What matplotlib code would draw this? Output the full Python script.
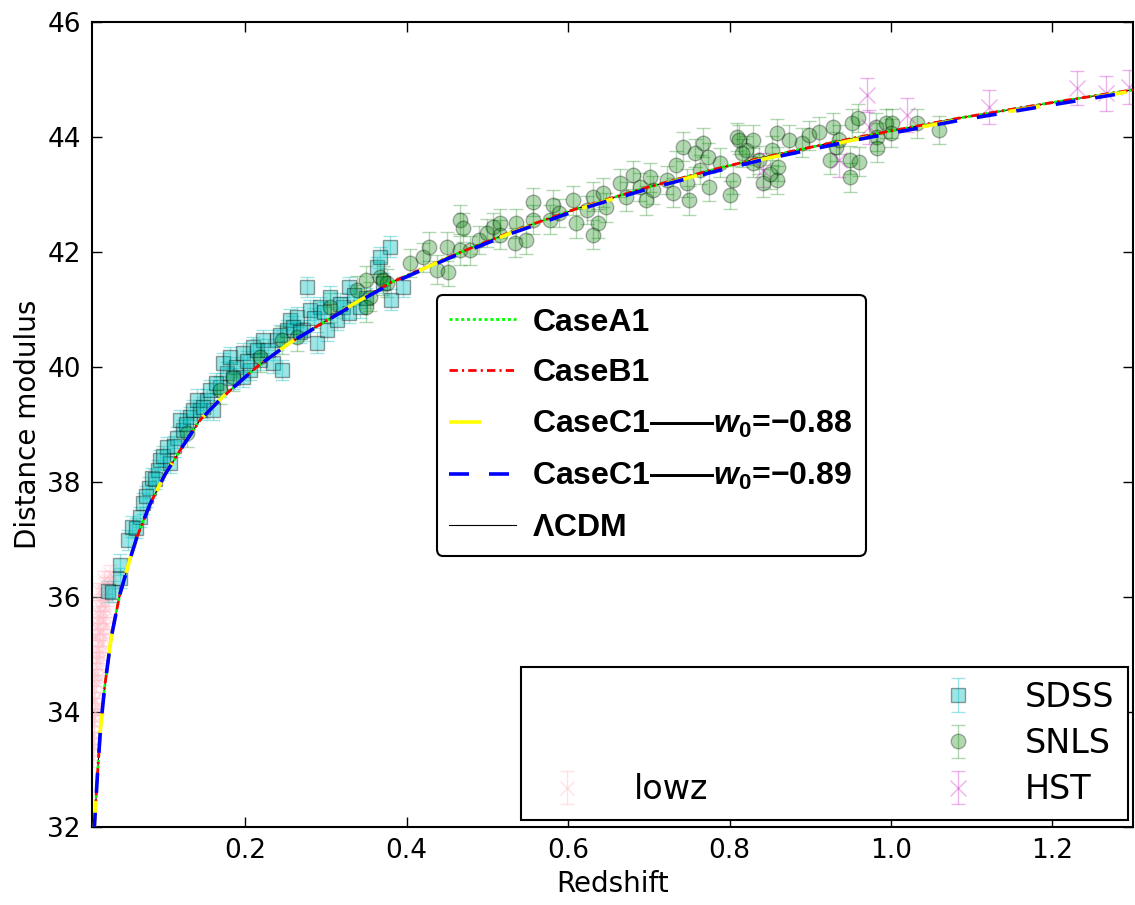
import matplotlib
matplotlib.use("Agg")
import matplotlib.pyplot as plt
from matplotlib.lines import Line2D

# model curves
z_model = [0.0125, 0.0165, 0.0206, 0.0256, 0.0338, 0.0442, 0.0566, 0.0656, 0.0820,
           0.1000, 0.1190, 0.1440, 0.1720, 0.2140, 0.2550, 0.2960, 0.3380, 0.3790,
           0.4500, 0.5310, 0.6140, 0.6970, 0.7790, 0.8370, 0.9000, 0.9610, 1.0850,
           1.2090, 1.3000]
mu_lcdm = [31.90, 32.87, 33.74, 34.43, 35.30, 36.03, 36.64, 37.04, 37.62,
           38.12, 38.55, 39.08, 39.48, 40.00, 40.42, 40.77, 41.13, 41.46,
           41.90, 42.36, 42.77, 43.12, 43.43, 43.63, 43.82, 44.00, 44.33,
           44.62, 44.82]
mu_a1 = [31.90, 32.87, 33.74, 34.43, 35.30, 36.03, 36.64, 37.04, 37.62,
         38.12, 38.55, 39.08, 39.48, 40.00, 40.42, 40.77, 41.13, 41.46,
         41.90, 42.36, 42.77, 43.12, 43.43, 43.63, 43.82, 44.00, 44.33,
         44.62, 44.82]
mu_b1 = [31.90, 32.87, 33.74, 34.43, 35.30, 36.03, 36.64, 37.04, 37.62,
         38.12, 38.55, 39.08, 39.48, 40.00, 40.42, 40.77, 41.13, 41.46,
         41.90, 42.36, 42.77, 43.12, 43.43, 43.63, 43.82, 44.00, 44.33,
         44.62, 44.82]
mu_c088 = [31.90, 32.87, 33.74, 34.43, 35.30, 36.03, 36.64, 37.04, 37.62,
           38.12, 38.55, 39.08, 39.48, 40.00, 40.42, 40.77, 41.13, 41.45,
           41.89, 42.34, 42.75, 43.10, 43.40, 43.60, 43.79, 43.97, 44.30,
           44.59, 44.80]
mu_c089 = [31.90, 32.87, 33.74, 34.43, 35.30, 36.03, 36.64, 37.04, 37.62,
           38.12, 38.55, 39.08, 39.48, 40.00, 40.42, 40.76, 41.12, 41.44,
           41.88, 42.33, 42.74, 43.09, 43.39, 43.59, 43.78, 43.96, 44.29,
           44.58, 44.79]

# supernova samples
z_lowz = [0.011, 0.012, 0.013, 0.013, 0.014, 0.014, 0.015, 0.015, 0.016, 0.016,
          0.017, 0.017, 0.018, 0.018, 0.019, 0.020, 0.021, 0.022, 0.023, 0.024,
          0.025, 0.026, 0.028, 0.030, 0.032, 0.013, 0.016, 0.019, 0.022, 0.027,
          0.011, 0.012, 0.012, 0.014, 0.015, 0.017, 0.018, 0.020, 0.021, 0.023,
          0.024, 0.026, 0.029, 0.031, 0.034, 0.012, 0.014, 0.016, 0.019, 0.025]
mu_lowz = [33.2, 33.6, 33.9, 34.4, 34.2, 34.7, 34.5, 35.0, 34.8, 35.3,
           35.1, 35.5, 35.2, 35.7, 35.4, 35.8, 35.6, 36.0, 35.7, 36.1,
           35.9, 36.2, 36.0, 36.3, 36.4, 33.4, 34.1, 34.9, 35.2, 35.5,
           33.5, 33.8, 34.2, 34.0, 34.9, 34.6, 35.0, 35.4, 35.9, 35.3,
           35.6, 35.8, 36.1, 36.2, 36.3, 34.6, 35.3, 35.6, 36.1, 36.3]

z_sdss = [0.030, 0.035, 0.045, 0.045, 0.055, 0.059, 0.069, 0.073, 0.080, 0.084,
          0.092, 0.094, 0.107, 0.103, 0.115, 0.123, 0.119, 0.131, 0.135, 0.144,
          0.140, 0.152, 0.160, 0.156, 0.168, 0.177, 0.172, 0.181, 0.189, 0.197,
          0.206, 0.197, 0.209, 0.218, 0.222, 0.234, 0.239, 0.246, 0.251, 0.255,
          0.264, 0.271, 0.276, 0.280, 0.289, 0.292, 0.301, 0.305, 0.313, 0.321,
          0.329, 0.329, 0.342, 0.363, 0.370, 0.379, 0.381, 0.395, 0.367,
          0.064, 0.077, 0.088, 0.098, 0.111, 0.127, 0.148, 0.164, 0.185, 0.202,
          0.214, 0.228, 0.243, 0.259, 0.268, 0.285, 0.297, 0.317, 0.335, 0.350]
mu_sdss = [36.10, 36.09, 36.33, 36.56, 36.99, 37.22, 37.39, 37.63, 37.90, 38.07,
           38.21, 38.38, 38.33, 38.61, 38.77, 38.90, 39.08, 39.13, 39.25, 39.25,
           39.43, 39.43, 39.25, 39.60, 39.65, 39.90, 40.07, 40.17, 40.00, 39.83,
           39.95, 40.24, 40.35, 40.12, 40.47, 40.07, 40.47, 39.95, 40.64, 40.82,
           40.87, 40.64, 41.39, 40.99, 40.42, 41.04, 40.64, 41.22, 40.82, 41.04,
           41.39, 40.94, 41.04, 41.74, 41.46, 42.09, 41.17, 41.39, 41.91,
           37.20, 37.75, 38.05, 38.45, 38.62, 39.00, 39.30, 39.72, 39.80, 40.10,
           40.30, 40.30, 40.55, 40.70, 40.60, 40.85, 40.95, 41.10, 41.25, 41.20]

z_snls = [0.128, 0.168, 0.185, 0.218, 0.246, 0.264, 0.305, 0.338, 0.350, 0.354,
          0.350, 0.367, 0.375, 0.370, 0.404, 0.420, 0.428, 0.437, 0.451, 0.450,
          0.466, 0.470, 0.466, 0.478, 0.490, 0.499, 0.507, 0.515, 0.515, 0.536,
          0.534, 0.548, 0.556, 0.556, 0.577, 0.581, 0.589, 0.606, 0.610, 0.623,
          0.631, 0.637, 0.631, 0.643, 0.647, 0.664, 0.672, 0.680, 0.689, 0.697,
          0.701, 0.705, 0.722, 0.730, 0.734, 0.742, 0.747, 0.750, 0.757, 0.763,
          0.767, 0.773, 0.775, 0.788, 0.800, 0.804, 0.809, 0.821, 0.829, 0.829,
          0.812, 0.816, 0.837, 0.841, 0.853, 0.859, 0.859, 0.874, 0.890, 0.899,
          0.911, 0.924, 0.928, 0.932, 0.936, 0.949, 0.949, 0.952, 0.959, 0.961,
          0.982, 0.983, 0.983, 0.994, 1.002, 1.000, 1.032, 1.060, 0.850, 0.860]
mu_snls = [38.85, 39.60, 39.83, 40.17, 40.47, 40.52, 41.04, 41.34, 41.51, 41.22,
           41.04, 41.57, 41.46, 41.51, 41.81, 41.91, 42.09, 41.69, 41.65, 42.09,
           42.56, 42.42, 42.03, 42.03, 42.21, 42.33, 42.43, 42.50, 42.30, 42.50,
           42.16, 42.21, 42.87, 42.56, 42.56, 42.82, 42.68, 42.90, 42.50, 42.73,
           42.96, 42.50, 42.30, 43.03, 42.78, 43.20, 42.96, 43.34, 43.13, 42.90,
           43.30, 43.08, 43.25, 43.03, 43.51, 43.83, 43.20, 42.90, 43.72, 43.43,
           43.90, 43.65, 43.13, 43.55, 42.99, 43.25, 44.00, 43.77, 43.95, 43.55,
           43.95, 43.72, 43.60, 43.20, 43.77, 44.07, 43.25, 43.95, 43.90, 44.03,
           44.09, 43.60, 44.17, 43.83, 43.95, 43.60, 43.30, 44.24, 44.33, 43.57,
           44.17, 44.00, 43.81, 44.24, 44.24, 44.07, 44.24, 44.12, 43.35, 43.48]

z_hst = [0.841, 0.936, 0.971, 0.973, 1.020, 1.122, 1.231, 1.267, 1.295]
mu_hst = [43.43, 43.60, 44.73, 44.17, 44.38, 44.52, 44.85, 44.76, 44.87]

err_lowz = 0.15
err_sdss = 0.18
err_snls = 0.25
err_hst = 0.30

plt.rcParams["lines.scale_dashes"] = False
plt.rcParams["mathtext.fontset"] = "custom"
plt.rcParams["mathtext.it"] = "Liberation Sans:italic:bold"
plt.rcParams["mathtext.rm"] = "Liberation Sans:bold"
plt.rcParams["mathtext.bf"] = "Liberation Sans:bold"

fig, ax = plt.subplots(figsize=(11.35, 9.05), dpi=100)
fig.subplots_adjust(left=0.0811, right=0.9982, bottom=0.0862, top=0.9757)

h_lowz = ax.errorbar(z_lowz, mu_lowz, yerr=err_lowz, fmt="x", color="pink",
                     ms=10, mew=1, alpha=0.45, capsize=5, elinewidth=1, label="lowz")
h_sdss = ax.errorbar(z_sdss, mu_sdss, yerr=err_sdss, fmt="s", color="c", mec="k",
                     ms=10, alpha=0.38, capsize=5, elinewidth=1, label="SDSS")
h_snls = ax.errorbar(z_snls, mu_snls, yerr=err_snls, fmt="o", color="g", mec="k",
                     ms=10.5, alpha=0.3, capsize=5, elinewidth=1, label="SNLS")
h_hst = ax.errorbar(z_hst, mu_hst, yerr=err_hst, fmt="x", color="m",
                    ms=12, mew=1, alpha=0.3, capsize=5, elinewidth=1, label="HST")

l_lcdm, = ax.plot(z_model, mu_lcdm, color="k", lw=0.8, zorder=3, label=r"$\Lambda$CDM")
l_a1, = ax.plot(z_model, mu_a1, color="lime", lw=2, dashes=(2.2, 2.0), zorder=4,
                label="CaseA1")
l_b1, = ax.plot(z_model, mu_b1, color="red", lw=2, dashes=(6, 3, 1.5, 3), zorder=5,
                label="CaseB1")
l_c088, = ax.plot(z_model, mu_c088, color="yellow", lw=2.6, dashes=(23, 40), zorder=6,
                  label="CaseC1\u2014\u2014$w_0$=\u22120.88")
l_c089, = ax.plot(z_model, mu_c089, color="blue", lw=2.6, dashes=(14.4, 14.4), zorder=7,
                  label="CaseC1\u2014\u2014$w_0$=\u22120.89")

ax.set_xlim(0.01, 1.3)
ax.set_ylim(32, 46)
ax.set_xticks([0.2, 0.4, 0.6, 0.8, 1.0, 1.2])
ax.set_yticks([32, 34, 36, 38, 40, 42, 44, 46])
ax.set_xlabel("Redshift", fontsize=20)
ax.set_ylabel("Distance modulus", fontsize=20)
ax.tick_params(direction="in", top=True, right=True, length=7, width=1,
               labelsize=19, pad=8)
for s in ax.spines.values():
    s.set_linewidth(1.5)

leg1 = ax.legend(handles=[l_a1, l_b1, l_c088, l_c089, l_lcdm],
                 loc="upper left", bbox_to_anchor=(0.331, 0.661), borderaxespad=0,
                 prop={"family": "Liberation Sans", "weight": "bold", "size": 23},
                 fancybox=True, framealpha=1, edgecolor="k", handlelength=2.1,
                 handletextpad=0.5, labelspacing=0.65, borderpad=0.4)
leg1.get_frame().set_linewidth(1.5)
ax.add_artist(leg1)

blank = Line2D([], [], ls="none")
leg2 = ax.legend(handles=[blank, blank, h_lowz, h_sdss, h_snls, h_hst],
                 labels=[" ", " ", "lowz", "SDSS", "SNLS", "HST"], ncol=2,
                 loc="lower right", bbox_to_anchor=(0.995, 0.009), borderaxespad=0,
                 fontsize=24, fancybox=False, framealpha=1, edgecolor="k",
                 handlelength=2, handletextpad=1.0, columnspacing=6.5,
                 labelspacing=0.4, borderpad=0.4)
leg2.get_frame().set_linewidth(1.5)

fig.savefig("out.png", dpi=100, facecolor="white")
